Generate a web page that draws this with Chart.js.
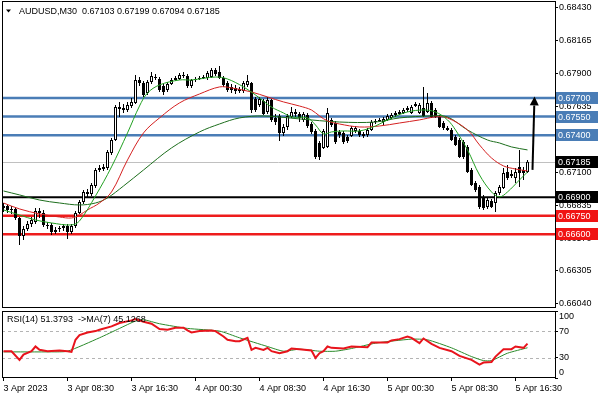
<!DOCTYPE html>
<html><head><meta charset="utf-8">
<script src="https://cdn.jsdelivr.net/npm/chart.js@4.4.0/dist/chart.umd.min.js"></script>
<style>
html,body{margin:0;padding:0;background:#fff;}
#wrap{position:relative;width:600px;height:400px;overflow:hidden;background:#fff;}
canvas{position:absolute;left:0;}
#main{top:0;}
#rsi{top:309px;}
</style></head><body>
<div id="wrap"><canvas id="main" width="600" height="309"></canvas><canvas id="rsi" width="600" height="91"></canvas></div>
<script>
const symbolTitle = 'AUDUSD,M30';
const lastQuote = ['0.67103','0.67199','0.67094','0.67185'];
const rsiTitle = 'RSI(14) 51.3793  ->MA(7) 45.1268';

const opens = [0.66813,0.66829,0.66797,0.66805,0.66732,0.66587,0.66644,0.66684,0.667,0.66789,
0.66773,0.66676,0.66676,0.66619,0.66644,0.66652,0.66668,0.66619,0.66668,0.66773,
0.66861,0.66942,0.66926,0.6699,0.67119,0.67127,0.67135,0.67256,0.67361,0.67627,
0.67619,0.67603,0.67635,0.6766,0.67845,0.67821,0.6774,0.67829,0.67869,0.67853,
0.67797,0.67765,0.67813,0.67845,0.67853,0.67885,0.67877,0.67797,0.67845,0.67853,
0.67861,0.67861,0.67869,0.67926,0.6791,0.67861,0.67821,0.67789,0.67781,0.67773,
0.67756,0.67805,0.67821,0.67692,0.67644,0.67676,0.67587,0.67684,0.67539,0.67555,
0.67418,0.67466,0.67547,0.67587,0.67571,0.67523,0.67563,0.6749,0.67434,0.67337,
0.67297,0.67305,0.67523,0.67498,0.67426,0.67418,0.67385,0.67394,0.67434,0.67434,
0.6741,0.67402,0.67442,0.67506,0.67515,0.67506,0.67523,0.67539,0.67563,0.67571,
0.67579,0.67603,0.67579,0.67635,0.67579,0.67619,0.67587,0.6766,0.67603,0.67547,
0.67498,0.67458,0.67442,0.67385,0.67361,0.67345,0.67305,0.67119,0.67014,0.66982,
0.66902,0.66821,0.66869,0.66853,0.66934,0.66974,0.67103,0.67071,0.67055,0.67144,
0.67119,0.67103];
const highs = [0.66853,0.66845,0.66829,0.66821,0.6674,0.66668,0.66708,0.6674,0.66813,0.66813,
0.66797,0.667,0.66692,0.6666,0.66668,0.66684,0.66684,0.66684,0.66789,0.66877,
0.66958,0.66966,0.67014,0.67135,0.6716,0.67168,0.67281,0.67377,0.67644,0.67668,
0.67652,0.67668,0.677,0.67885,0.67869,0.67837,0.67845,0.6791,0.67894,0.67869,
0.67813,0.67829,0.67861,0.67877,0.67902,0.6791,0.67894,0.67853,0.67869,0.67877,
0.67885,0.67918,0.67942,0.67942,0.67958,0.67877,0.67837,0.67813,0.67805,0.67789,
0.67837,0.67885,0.67829,0.67708,0.67708,0.67692,0.67708,0.67692,0.67571,0.67571,
0.6749,0.67571,0.67627,0.67611,0.67587,0.67587,0.67579,0.67506,0.6745,0.67353,
0.6745,0.67619,0.67539,0.67515,0.67442,0.67434,0.67402,0.67474,0.67474,0.6745,
0.67426,0.67458,0.67523,0.67531,0.67539,0.67547,0.67571,0.67579,0.67595,0.67603,
0.67619,0.67635,0.67644,0.67668,0.6766,0.67789,0.6774,0.67676,0.67619,0.67563,
0.67515,0.67474,0.67458,0.67402,0.67377,0.67361,0.67321,0.67135,0.67031,0.66998,
0.66918,0.66894,0.66885,0.6695,0.66998,0.67135,0.6716,0.67119,0.67135,0.67281,
0.67144,0.67199];
const lows = [0.66781,0.66773,0.66765,0.66716,0.66514,0.66555,0.66627,0.6666,0.66684,0.66732,
0.6666,0.66644,0.66595,0.66603,0.66619,0.66627,0.66563,0.66603,0.66652,0.66765,
0.66845,0.66902,0.6691,0.66974,0.67103,0.67111,0.67119,0.6724,0.67353,0.67547,
0.67579,0.67587,0.67619,0.67652,0.67797,0.67708,0.67724,0.67813,0.67845,0.67748,
0.67724,0.67748,0.67805,0.67837,0.67845,0.67861,0.67781,0.67781,0.67829,0.67845,
0.67853,0.67845,0.67861,0.67877,0.67853,0.67789,0.67748,0.6774,0.67732,0.6774,
0.6774,0.67789,0.67579,0.67587,0.67627,0.67563,0.67571,0.67506,0.67482,0.67353,
0.67394,0.67442,0.67539,0.67547,0.67506,0.67506,0.67458,0.6741,0.67208,0.672,
0.67289,0.67297,0.67466,0.67329,0.67377,0.67329,0.67337,0.67385,0.67418,0.67385,
0.67377,0.67385,0.67434,0.6749,0.67506,0.67482,0.67515,0.67531,0.67547,0.67563,
0.67571,0.67587,0.67571,0.67627,0.67571,0.67547,0.67579,0.67539,0.67539,0.67458,
0.67442,0.67434,0.67353,0.67313,0.67216,0.67208,0.67095,0.6699,0.66942,0.66805,
0.66797,0.66805,0.66813,0.66781,0.66918,0.66966,0.67039,0.67055,0.67014,0.66982,
0.67039,0.67094];
const closes = [0.66829,0.66797,0.66805,0.66732,0.66587,0.66644,0.66684,0.66716,0.66789,0.66773,
0.66676,0.66668,0.66619,0.66635,0.66652,0.66668,0.66619,0.66668,0.66773,0.66861,
0.66942,0.66926,0.66998,0.67119,0.67135,0.67144,0.67264,0.67361,0.67627,0.67611,
0.67603,0.67644,0.67668,0.67845,0.67821,0.67724,0.67829,0.67877,0.67861,0.67765,
0.67748,0.67813,0.67845,0.67861,0.67885,0.67877,0.67797,0.67845,0.67853,0.67861,
0.67869,0.67902,0.67926,0.67894,0.67861,0.67805,0.67765,0.67765,0.67756,0.67756,
0.67821,0.67837,0.67603,0.67603,0.67692,0.67571,0.67684,0.67523,0.67506,0.67418,
0.67466,0.67555,0.67587,0.67571,0.67539,0.67571,0.67474,0.67426,0.67224,0.67224,
0.67434,0.67579,0.67482,0.67345,0.67402,0.67345,0.67353,0.67458,0.67458,0.67402,
0.67394,0.67442,0.67506,0.67515,0.67523,0.67531,0.67555,0.67563,0.67579,0.67587,
0.67603,0.67619,0.67627,0.67652,0.67644,0.67555,0.6766,0.67547,0.67547,0.67466,
0.67458,0.67442,0.67361,0.67321,0.67224,0.67224,0.67103,0.66998,0.66958,0.66821,
0.66813,0.66877,0.66821,0.66934,0.66982,0.67095,0.67055,0.67087,0.67103,0.67095,
0.67095,0.67185];

// moving averages (bar index -> price)
const fastMaIdx = [0,4,8,12,17,19,23,27,31,34,36,39,44,47,53,56,60,63,67,70,72,76,78,80,82,85,89,93,97,101,105,108,111,113,116,119,122,124,126,129,131];
const fastMaVal = [0.66797,0.66756,0.66716,0.66692,0.66676,0.66708,0.6691,0.67144,0.67418,0.67635,0.6774,0.67805,0.67845,0.67845,0.67869,0.67853,0.67789,0.67724,0.67627,0.67579,0.67547,0.67539,0.67482,0.6741,0.67426,0.67434,0.67434,0.67474,0.67539,0.67587,0.67603,0.67587,0.67523,0.67442,0.67281,0.67079,0.66942,0.66902,0.66942,0.67039,0.67103];
const midMaIdx = [0,4,9,14,17,19,21,24,27,31,35,39,44,49,54,57,62,66,70,74,77,79,81,84,89,94,99,104,108,111,116,119,122,125,128,131];
const midMaVal = [0.66853,0.66805,0.66765,0.6674,0.66732,0.66756,0.66797,0.66853,0.66942,0.672,0.67418,0.67539,0.6766,0.67732,0.67789,0.67781,0.67748,0.67708,0.67668,0.67635,0.67603,0.67555,0.67515,0.6749,0.67466,0.67474,0.67498,0.67523,0.67547,0.67539,0.67442,0.67321,0.67216,0.67152,0.67127,0.67111];
const slowMaIdx = [0,4,9,14,19,23,26,30,35,42,49,54,59,65,74,84,93,99,107,111,116,121,124,127,131];
const slowMaVal = [0.6695,0.66918,0.66877,0.66853,0.66837,0.66853,0.66894,0.6699,0.67119,0.67297,0.67426,0.6749,0.67539,0.67555,0.67531,0.67506,0.67506,0.67539,0.67555,0.67547,0.67442,0.67361,0.67337,0.67305,0.67281];

const rsiIdx = [0,2,4,5,7,8,9,11,14,16,17,18,19,21,23,24,27,29,32,33,35,37,39,41,43,45,46,47,49,52,53,55,56,58,59,61,62,63,65,66,67,69,71,72,74,77,78,79,80,81,82,85,87,91,92,96,97,99,101,102,104,105,107,109,112,114,117,119,120,122,123,125,127,128,130,131];
const rsiVal = [40,40,27,35,40,47,42,40,41,40,39,57,64,68,70,72,77,82,86,88,84,81,73,72,75,75,71,68,70,71,70,62,57,55,55,60,42,45,42,45,40,37,40,44,43,41,30,37,40,47,45,44,47,46,53,53,56,58,62,60,52,59,51,45,40,33,27,20,23,24,32,43,43,47,45,51.38];
const rsiMaIdx = [0,12,16,24,29,33,35,39,46,54,59,66,70,74,79,83,87,93,102,106,112,117,120,122,126,131];
const rsiMaVal = [39,39,40,60,74,85,87,81,74,70,60,47,40,43,40,40,44,52,58,57,45,32,26,26,37,45.13];

const xTickIdx = [0,16,32,48,64,80,96,112,128];
const xTickLabels = ['3 Apr 2023','3 Apr 08:30','3 Apr 16:30','4 Apr 00:30','4 Apr 08:30','4 Apr 16:30','5 Apr 00:30','5 Apr 08:30','5 Apr 16:30'];
const priceTicks = [0.6843,0.68165,0.679,0.67635,0.6737,0.671,0.66835,0.6657,0.66305,0.6604];
const rsiTicks = [100,70,30,0];
const rsiLevels = [70,30];
const levelValues = [0.677,0.6755,0.674,0.669,0.6675,0.666];
const levelKinds = ['res','res','res','pivot','sup','sup'];
const currentPrice = 0.67185;
const arrowFrom = {x:132.25, y:0.6712};
const arrowTo = {x:132.75, y:0.67712};

// ---- styling ----
const FONT = "'Liberation Sans', Arial, sans-serif";
Chart.defaults.font.family = FONT;
Chart.defaults.font.size = 9;
Chart.defaults.color = '#000';
const kindColor = {res:'#4a7db6', pivot:'#000000', sup:'#ee1c1c'};
const kindBox = {res:'#4a7db6', pivot:'#000000', sup:'#f01414'};
const kindWidth = {res:2.5, pivot:2, sup:2.5};
const xMin = -0.375, xMax = 137.875;
const yMin = 0.66006, yMax = 0.68482;

const pts = (ix, v) => ix.map((x,k)=>({x, y:v[k]}));
const barIdx = closes.map((_,i)=>i);
const bodies = barIdx.map(i=>({x:i, y:[opens[i], closes[i]]}));
const wicks = barIdx.map(i=>({x:i, y:[lows[i], highs[i]]}));
const bodyColors = barIdx.map(i=> closes[i] >= opens[i] ? '#ffffff' : '#000000');

const noPad = s => { s.paddingTop = 0; s.paddingBottom = 0; s.paddingLeft = 0; s.paddingRight = 0; };

function frame(chart){
  const {ctx, chartArea:a} = chart;
  ctx.save(); ctx.strokeStyle='#000'; ctx.lineWidth=1;
  ctx.strokeRect(Math.round(a.left)+0.5, Math.round(a.top)+0.5, Math.round(a.right-a.left), Math.round(a.bottom-a.top)-1);
  ctx.restore();
}

const mainPlugin = {
  id:'mainDeco',
  beforeDatasetsDraw(chart){
    const {ctx, chartArea:a, scales:{y}} = chart;
    ctx.save();
    let py = Math.round(y.getPixelForValue(currentPrice))+0.5;
    ctx.strokeStyle='#c0c0c0'; ctx.lineWidth=1;
    ctx.beginPath(); ctx.moveTo(a.left, py); ctx.lineTo(a.right, py); ctx.stroke();
    levelValues.forEach((v,k)=>{
      const yy = y.getPixelForValue(v);
      ctx.strokeStyle = kindColor[levelKinds[k]]; ctx.lineWidth = kindWidth[levelKinds[k]];
      ctx.beginPath(); ctx.moveTo(a.left, yy); ctx.lineTo(a.right, yy); ctx.stroke();
    });
    ctx.restore();
  },
  afterDatasetsDraw(chart){
    const {ctx, scales:{x,y}} = chart;
    const x0 = x.getPixelForValue(arrowFrom.x), y0 = y.getPixelForValue(arrowFrom.y);
    const x1 = x.getPixelForValue(arrowTo.x), y1 = y.getPixelForValue(arrowTo.y);
    const ang = Math.atan2(y1-y0, x1-x0);
    const hl = 9, hw = 4.5;
    const bx = x1 - hl*Math.cos(ang), by = y1 - hl*Math.sin(ang);
    ctx.save();
    ctx.strokeStyle='#000'; ctx.fillStyle='#000'; ctx.lineWidth=2;
    ctx.beginPath(); ctx.moveTo(x0,y0); ctx.lineTo(bx,by); ctx.stroke();
    ctx.beginPath(); ctx.moveTo(x1,y1);
    ctx.lineTo(bx + hw*Math.sin(ang), by - hw*Math.cos(ang));
    ctx.lineTo(bx - hw*Math.sin(ang), by + hw*Math.cos(ang));
    ctx.closePath(); ctx.fill();
    ctx.restore();
  },
  afterDraw(chart){
    const {ctx, chartArea:a, scales:{y}} = chart;
    frame(chart);
    ctx.save();
    ctx.font = '9px ' + FONT;
    ctx.textBaseline = 'middle';
    const box = (v, bg) => {
      const yy = Math.round(y.getPixelForValue(v));
      ctx.fillStyle = bg; ctx.fillRect(a.right+1, yy-6, 42, 12);
      ctx.fillStyle = '#fff'; ctx.fillText(v.toFixed(5), a.right+3, yy+0.5);
    };
    levelValues.forEach((v,k)=>box(v, kindBox[levelKinds[k]]));
    box(currentPrice, '#000');
    ctx.fillStyle='#000';
    ctx.beginPath(); ctx.moveTo(6,9.5); ctx.lineTo(11,9.5); ctx.lineTo(8.5,12.5); ctx.closePath(); ctx.fill();
    ctx.textBaseline='alphabetic';
    ctx.fillText(symbolTitle + '  ' + lastQuote.join(' '), 19, 14);
    ctx.restore();
  }
};

new Chart(document.getElementById('main'), {
  type:'bar',
  data:{datasets:[
    {type:'line', data:pts(fastMaIdx, fastMaVal), borderColor:'#22a022', borderWidth:1, pointRadius:0, tension:0.35, order:0},
    {type:'line', data:pts(midMaIdx, midMaVal), borderColor:'#d42020', borderWidth:1, pointRadius:0, tension:0.35, order:0},
    {type:'line', data:pts(slowMaIdx, slowMaVal), borderColor:'#1d6e1d', borderWidth:1, pointRadius:0, tension:0.35, order:0},
    {type:'bar', data:bodies, backgroundColor:bodyColors, borderColor:'#000', borderWidth:1, borderSkipped:false, barThickness:3, grouped:false, inflateAmount:0, order:1},
    {type:'bar', data:wicks, backgroundColor:'#000', borderWidth:0, barThickness:1, grouped:false, inflateAmount:0, order:2}
  ]},
  options:{
    responsive:false, animation:false, devicePixelRatio:1,
    layout:{padding:{left:2, top:1, right:0, bottom:1}},
    plugins:{legend:{display:false}, tooltip:{enabled:false}},
    scales:{
      x:{type:'linear', min:xMin, max:xMax, bounds:'data', offset:false, display:false},
      y:{type:'linear', position:'right', min:yMin, max:yMax, bounds:'data',
        afterBuildTicks:s=>{ s.ticks = priceTicks.map(v=>({value:v})); },
        afterFit:s=>{ s.width = 45; noPad(s); },
        grid:{drawOnChartArea:false, drawTicks:true, tickLength:3, color:'#000'},
        border:{display:false},
        ticks:{autoSkip:false, padding:1, color:'#000', font:{size:9}, callback:v=>Number(v).toFixed(5)}
      }
    }
  },
  plugins:[mainPlugin]
});

const rsiPlugin = {
  id:'rsiDeco',
  beforeDatasetsDraw(chart){
    const {ctx, chartArea:a, scales:{y}} = chart;
    ctx.save(); ctx.strokeStyle='#b4b4b4'; ctx.lineWidth=1; ctx.setLineDash([3,3]);
    rsiLevels.forEach(v=>{
      const yy = Math.round(y.getPixelForValue(v))+0.5;
      ctx.beginPath(); ctx.moveTo(a.left, yy); ctx.lineTo(a.right, yy); ctx.stroke();
    });
    ctx.restore();
  },
  afterDraw(chart){
    const {ctx} = chart;
    frame(chart);
    ctx.save(); ctx.font='9px '+FONT; ctx.fillStyle='#000';
    ctx.fillText(rsiTitle, 7, 12.5);
    ctx.restore();
  }
};

new Chart(document.getElementById('rsi'), {
  type:'line',
  data:{datasets:[
    {data:pts(rsiIdx, rsiVal), borderColor:'#e8141c', borderWidth:2, pointRadius:0, tension:0, order:0},
    {data:pts(rsiMaIdx, rsiMaVal), borderColor:'#2a8a2a', borderWidth:1, pointRadius:0, tension:0.2, order:1}
  ]},
  options:{
    responsive:false, animation:false, devicePixelRatio:1,
    layout:{padding:{left:2, top:2, right:0, bottom:0}},
    plugins:{legend:{display:false}, tooltip:{enabled:false}},
    scales:{
      x:{type:'linear', min:xMin, max:xMax, bounds:'data', offset:false,
        afterBuildTicks:s=>{ s.ticks = xTickIdx.map(v=>({value:v})); },
        afterFit:s=>{ s.height = 22; noPad(s); },
        grid:{drawOnChartArea:false, drawTicks:true, tickLength:3, color:'#000'},
        border:{display:false},
        ticks:{autoSkip:false, maxRotation:0, align:'start', padding:2, color:'#000', font:{size:9},
          callback:v=>{ const k = xTickIdx.indexOf(v); return k>=0 ? xTickLabels[k] : ''; }}
      },
      y:{type:'linear', position:'right', min:0, max:100, bounds:'data',
        afterBuildTicks:s=>{ s.ticks = rsiTicks.map(v=>({value:v})); },
        afterFit:s=>{ s.width = 45; noPad(s); },
        grid:{drawOnChartArea:false, drawTicks:true, tickLength:3, color:'#000'},
        border:{display:false},
        ticks:{autoSkip:false, padding:1, color:'#000', font:{size:9},
          callback:v=> v===100 ? ['', '100'] : (v===0 ? ['0',''] : String(v))}
      }
    }
  },
  plugins:[rsiPlugin]
});
</script>
</body></html>
